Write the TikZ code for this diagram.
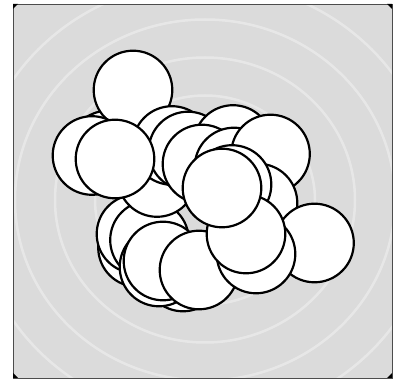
\documentclass[tikz,border=0pt]{standalone}
\begin{document}
\begin{tikzpicture}[x=1pt,y=-1pt,
  ball/.style={draw=black,fill=white,line width=2.2pt},
  ring/.style={draw=white,line width=2.5pt,opacity=0.35}]
\useasboundingbox (0,0) rectangle (397,382);
\fill[white] (0,0) rectangle (397,382);
\fill[black!14] (13,4) rectangle (392,378);
\begin{scope}
\clip (13,4) rectangle (392,378);
\foreach \r in {70,110,150,190,230}
  \draw[ring] (205,200) ellipse ({\r} and {0.95*\r});
\end{scope}
\draw[black!70,line width=0.8pt] (13,4) rectangle (392,378);
\fill[black] (13,4) -- (18,4) -- (13,9) -- cycle;
\fill[black] (392,4) -- (387,4) -- (392,9) -- cycle;
\fill[black] (13,378) -- (18,378) -- (13,373) -- cycle;
\fill[black] (392,378) -- (387,378) -- (392,373) -- cycle;
% back to front
\foreach \x/\y in {
  137.5/247.5, 136/234, 149.5/240,
  108/150, 133/90, 92/155.5, 157/177.5,
  172/145.5, 188/151, 233/144.5, 202/164, 234/167, 270.5/154,
  258/203, 232/184.5,
  115/159,
  183/272, 159/267, 163/261, 199/270,
  314.5/243, 256/254, 246/234, 222/188}
  \draw[ball] (\x,\y) circle (39.3);
\end{tikzpicture}
\end{document}
